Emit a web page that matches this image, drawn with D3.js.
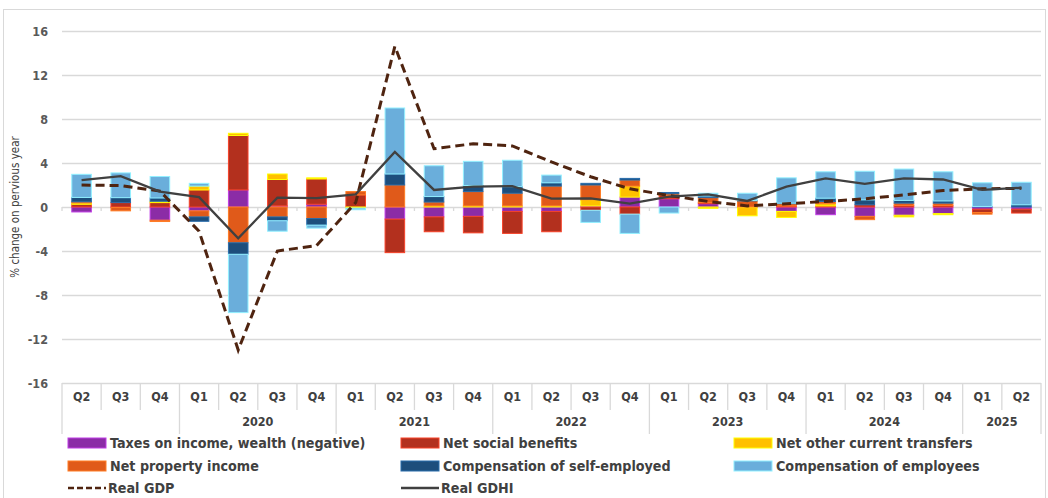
<!DOCTYPE html>
<html>
<head>
<meta charset="utf-8">
<script src="https://cdn.jsdelivr.net/npm/d3@7"></script>
<style>
  body { margin: 0; background: #fff; }
  text { font-family: "Liberation Sans Narrow", "DejaVu Sans Condensed", sans-serif; }
</style>
</head>
<body>
<svg id="chart"></svg>
<script>
// periods Q2 2019 .. Q2 2025
const quarters = ["Q2","Q3","Q4","Q1","Q2","Q3","Q4","Q1","Q2","Q3","Q4","Q1","Q2","Q3","Q4",
                  "Q1","Q2","Q3","Q4","Q1","Q2","Q3","Q4","Q1","Q2"];
const years = ["2019","2020","2021","2022","2023","2024","2025"];
const yearLabels = ["","2020","2021","2022","2023","2024","2025"];
const quartersPerYear = [3,4,4,4,4,4,2];

const taxes =          [-0.45,-0.05,-1.2,-0.35,1.55,0.1,0.25,0,-1.1,-0.9,-0.85,-0.4,-0.4,0.1,0.9,0.75,0.3,-0.05,-0.4,-0.7,-0.85,-0.75,-0.6,-0.2,-0.2];
const socialBenefits = [0.25,0.4,0.4,1.55,4.95,2.4,2.3,1.1,-3.05,-1.35,-1.5,-2.0,-1.85,-0.3,-0.65,0.3,0.1,0,0.1,0.1,0.2,0.15,0.15,-0.3,-0.35];
const otherTransfers = [0.12,0,0.12,0.35,0.2,0.5,0.1,-0.1,0,0.1,0.1,0.1,0.1,0.55,1.0,0,-0.12,-0.75,-0.55,0.2,0,-0.15,-0.1,0,0];
const propertyIncome = [0.1,-0.3,-0.12,-0.55,-3.25,-0.9,-1.05,0.3,2.0,0.35,1.3,1.15,1.8,1.35,0.55,0.15,0.45,0.55,0.2,0.2,-0.3,0.2,0.2,-0.15,0];
const selfEmployed =   [0.4,0.45,0.3,-0.4,-1.05,-0.35,-0.6,0,1.0,0.5,0.55,0.6,0.3,0.15,0.15,0.12,0.15,0.05,0.05,0.3,0.45,0.25,0.2,0.05,0.2];
const employees =      [2.1,2.25,1.95,0.25,-5.3,-0.95,-0.27,-0.15,6.0,2.8,2.2,2.4,0.7,-1.1,-1.75,-0.55,0.25,0.65,2.3,2.4,2.6,2.85,2.65,2.15,2.05];

const realGDP =  [2.0,1.95,1.45,-2.2,-13.0,-4.0,-3.5,0.4,14.6,5.3,5.75,5.55,4.1,2.75,1.65,1.05,0.5,0.1,0.3,0.5,0.75,1.1,1.5,1.65,1.7];
const realGDHI = [2.45,2.8,1.4,0.9,-2.85,0.85,0.8,1.15,5.0,1.55,1.85,1.9,0.76,0.78,0.3,0.95,1.15,0.55,1.85,2.6,2.1,2.6,2.5,1.55,1.75];

const seriesNames = ["Taxes on income, wealth (negative)","Net social benefits","Net other current transfers",
                     "Net property income","Compensation of self-employed","Compensation of employees"];
const seriesValues = [taxes, socialBenefits, otherTransfers, propertyIncome, selfEmployed, employees];
const colors = ["#8b2ca6","#b3301e","#ffc000","#e05a1a","#1d4e7c","#6aaedb"];

const W = 1048, H = 498;
const plotLeft = 62, plotRight = 1041, plotTop = 31, plotBottom = 383;

const svg = d3.select("#chart").attr("width", W).attr("height", H);

// chart border
svg.append("rect")
  .attr("x", 3.5).attr("y", 9.5).attr("width", 1042).attr("height", 500)
  .attr("fill", "none").attr("stroke", "#d9d9d9");

const rows = quarters.map((q, i) => {
  let r = {i: i};
  seriesNames.forEach((s, k) => r[s] = seriesValues[k][i]);
  return r;
});

let x = d3.scaleBand().domain(d3.range(quarters.length)).range([plotLeft, plotRight])
  .paddingInner(0.5).paddingOuter(0.25);
let y = d3.scaleLinear().domain([-16, 16]).range([plotBottom, plotTop]);
const step = x.step();

// y axis + gridlines
svg.append("g")
  .attr("transform", "translate(" + plotLeft + ",0)")
  .call(d3.axisLeft(y).tickValues(d3.range(-16, 17, 4)).tickSize(-(plotRight - plotLeft)).tickPadding(14)
    .tickFormat(d => String(d)))
  .call(g => g.select(".domain").remove())
  .call(g => g.selectAll("line").attr("stroke", "#d9d9d9").attr("stroke-width", 1.3))
  .call(g => g.selectAll("text").attr("fill", "#595959").attr("font-size", 12.5).attr("font-weight", "bold"));

// zero line tick marks
svg.append("g").selectAll("line")
  .data(d3.range(quarters.length + 1))
  .join("line")
    .attr("x1", i => plotLeft + i * step).attr("x2", i => plotLeft + i * step)
    .attr("y1", y(0)).attr("y2", y(0) + 4)
    .attr("stroke", "#d9d9d9").attr("stroke-width", 1.3);

svg.append("text")
  .attr("transform", "translate(19," + y(0) + ") rotate(-90)")
  .attr("text-anchor", "middle")
  .attr("font-size", 11.5)
  .attr("fill", "#404040")
  .text("% change on pervious year");

// stacked bars
let stack = d3.stack().keys(seriesNames).offset(d3.stackOffsetDiverging);
let stacked = stack(rows);

svg.append("g").selectAll("g")
  .data(stacked)
  .join("g")
    .attr("fill", (d, k) => colors[k])
    .attr("stroke", (d, k) => d3.color(colors[k]).brighter(0.9))
    .attr("stroke-width", 1)
  .selectAll("rect")
  .data(d => d)
  .join("rect")
    .attr("x", d => x(d.data.i))
    .attr("width", x.bandwidth())
    .attr("y", d => y(Math.max(d[0], d[1])))
    .attr("height", d => Math.abs(y(d[0]) - y(d[1])));

// lines
let lineGen = d3.line()
  .x((d, i) => x(i) + x.bandwidth() / 2)
  .y(d => y(d));

svg.append("path")
  .datum(realGDP)
  .attr("fill", "none")
  .attr("stroke", "#4f2410")
  .attr("stroke-width", 3)
  .attr("stroke-dasharray", "9,5")
  .attr("d", lineGen);

svg.append("path")
  .datum(realGDHI)
  .attr("fill", "none")
  .attr("stroke", "#404040")
  .attr("stroke-width", 2.3)
  .attr("d", lineGen);

// category axis (quarters)
svg.append("g")
  .attr("transform", "translate(0," + plotBottom + ")")
  .call(d3.axisBottom(x).tickSize(0).tickPadding(9).tickFormat(i => quarters[i]))
  .call(g => g.select(".domain").remove())
  .call(g => g.selectAll("text").attr("fill", "#404040").attr("font-size", 12.5).attr("font-weight", "bold"));

// separators
let yearStarts = [0];
quartersPerYear.forEach(n => yearStarts.push(yearStarts[yearStarts.length - 1] + n));

svg.append("g").selectAll("line")
  .data(d3.range(quarters.length + 1))
  .join("line")
    .attr("x1", i => plotLeft + i * step).attr("x2", i => plotLeft + i * step)
    .attr("y1", plotBottom)
    .attr("y2", i => yearStarts.includes(i) ? 434 : 410)
    .attr("stroke", "#d9d9d9").attr("stroke-width", 1.3);

svg.append("g").selectAll("text")
  .data(years)
  .join("text")
    .attr("x", (d, k) => plotLeft + (yearStarts[k] + quartersPerYear[k] / 2) * step)
    .attr("y", 426)
    .attr("text-anchor", "middle")
    .attr("fill", "#404040").attr("font-size", 12.5).attr("font-weight", "bold")
    .text((d, k) => yearLabels[k]);

// legend
const legCols = [68, 401, 734];
const legRows = [443, 466, 488];
let legend = svg.append("g");
seriesNames.forEach((s, k) => {
  let lx = legCols[k % 3], ly = legRows[Math.floor(k / 3)];
  legend.append("rect")
    .attr("x", lx).attr("y", ly - 5).attr("width", 38).attr("height", 10)
    .attr("fill", colors[k]).attr("stroke", d3.color(colors[k]).brighter(0.9));
  legend.append("text")
    .attr("x", lx + 42).attr("y", ly + 5)
    .attr("fill", "#404040").attr("font-size", 14.2).attr("font-weight", "bold")
    .text(s);
});
const lineLegend = [
  {name: "Real GDP", color: "#4f2410", dash: "6,3", width: 2.5},
  {name: "Real GDHI", color: "#404040", dash: null, width: 2.3}
];
lineLegend.forEach((l, k) => {
  let lx = legCols[k], ly = legRows[2];
  legend.append("line")
    .attr("x1", lx).attr("x2", lx + 38).attr("y1", ly).attr("y2", ly)
    .attr("stroke", l.color).attr("stroke-width", l.width)
    .attr("stroke-dasharray", l.dash);
  legend.append("text")
    .attr("x", lx + 40).attr("y", ly + 5)
    .attr("fill", "#404040").attr("font-size", 14.2).attr("font-weight", "bold")
    .text(l.name);
});
</script>
</body>
</html>
